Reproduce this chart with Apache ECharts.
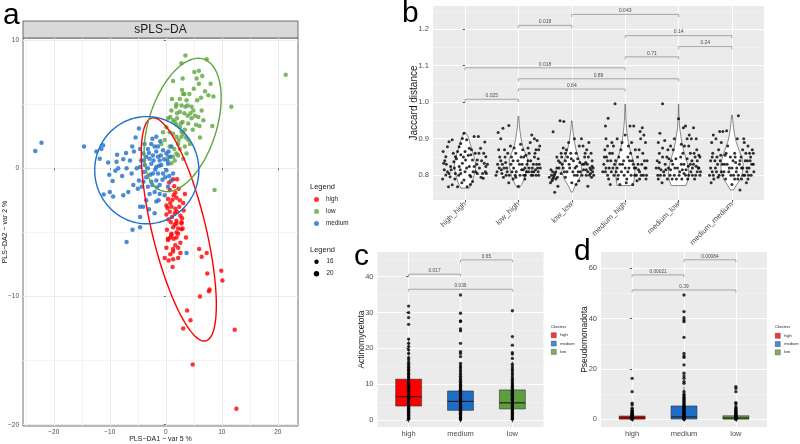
<!DOCTYPE html>
<html><head><meta charset="utf-8">
<script src="https://cdn.jsdelivr.net/npm/echarts@6/dist/echarts.min.js"></script>
<style>html,body{margin:0;padding:0;background:#fff}#main{width:800px;height:444px}</style>
</head><body><div id="main"></div>
<script>
// ---------- Panel a: sPLS-DA scores ----------
const aGroups = ['high', 'low', 'medium'];
const highPts = [[1.3,-0.86],[2.0,-0.86],[0.7,-1.7],[1.4,-2.1],[0.4,-2.4],[1.2,-2.45],[1.9,-2.3],[2.5,-2.5],[3.1,-2.7],[0.1,-2.9],[1.0,-3.0],[1.7,-3.15],[2.4,-3.0],[0.7,-3.4],[0.1,-3.6],[1.6,-3.5],[2.6,-3.7],[1.9,-4.1],[2.8,-4.3],[1.3,-4.6],[3.0,-4.7],[2.2,-5.1],[1.0,-5.2],[1.9,-5.4],[0.4,-5.6],[0.9,-4.2],[1.9,-4.3],[2.8,-4.2],[2.2,-4.7],[2.8,-4.75],[1.0,-5.1],[1.9,-5.0],[0.4,-5.5],[0.8,-5.4],[1.4,-5.5],[1.3,-6.3],[2.2,-6.2],[-0.2,-7.0],[0.8,-6.7],[1.3,-6.5],[0.5,-7.2],[1.3,-7.1],[2.2,-7.0],[1.2,-7.7],[5.95,-6.3],[6.4,-6.9],[7.3,-6.6],[7.4,-8.2],[9.9,-8.0],[10.1,-8.75],[7.7,-9.6],[7.8,-9.45],[6.1,-10.0],[3.8,-11.1],[4.4,-11.85],[3.1,-12.5],[12.3,-12.6],[4.8,-15.3],[12.6,-18.75],[0.6,-1.1],[2.3,-1.6],[1.5,-1.4],[3.2,-3.3],[0.5,-4.0],[2.6,-5.8],[1.7,-6.0],[0.1,-6.2],[3.4,-2.0],[1.1,-3.8],[2.0,-3.4],[0.3,-3.1],[2.9,-3.9],[1.6,-4.4],[0.8,-2.7],[2.6,-6.6],[3.6,-5.4],[1.7,-1.9],[0.2,-4.8]];
const lowPts = [[3.5,8.8],[2.8,8.2],[7.3,8.5],[21.4,7.3],[5.1,7.5],[5.9,7.6],[5.5,7.0],[5.9,6.6],[1.3,6.8],[8.0,6.6],[7.0,6.0],[7.6,5.7],[8.5,5.6],[2.9,6.1],[3.3,5.8],[2.5,5.4],[3.1,5.8],[1.1,5.4],[1.9,5.0],[2.8,4.9],[3.5,4.8],[3.9,4.9],[4.6,4.8],[4.9,4.5],[11.7,4.8],[2.5,4.4],[3.3,4.3],[3.9,4.1],[5.2,4.1],[5.8,4.0],[6.7,3.75],[6.0,3.3],[8.3,3.3],[6.1,2.4],[5.4,3.4],[0.4,3.9],[0.8,4.0],[1.3,3.75],[1.6,3.6],[1.9,3.4],[2.5,3.2],[3.4,3.0],[3.1,2.7],[2.8,2.45],[4.0,2.2],[1.3,2.7],[1.9,2.45],[0.1,3.2],[0.7,2.8],[4.3,1.9],[3.4,1.7],[2.5,1.5],[3.7,1.15],[1.9,1.15],[1.3,0.9],[1.6,0.6],[0.4,0.9],[-0.5,2.8],[-0.2,2.2],[8.7,-1.7],[-0.8,1.9],[0.7,1.7],[2.2,1.9],[3.0,3.6],[4.0,3.5],[4.6,3.9],[5.6,5.3],[6.4,4.5],[1.0,4.5],[1.8,4.8],[3.7,5.3],[4.4,4.3],[2.2,1.0],[3.1,0.75],[1.0,0.4],[2.8,2.85],[2.0,3.9],[2.7,3.5],[3.6,2.4],[2.3,2.2],[1.5,1.5],[4.8,3.0],[5.0,6.2],[6.5,7.2],[4.2,5.8],[3.0,7.0],[2.0,4.3],[6.3,5.5]];
const mediumPts = [[-23.3,1.35],[-22.2,2.0],[-14.6,1.7],[-11.2,1.8],[-11.5,1.5],[-11.8,0.75],[-10.3,0.45],[-10.1,-0.5],[-9.5,-1.0],[-8.7,1.05],[-8.8,0.5],[-7.6,0.7],[-6.4,0.6],[-7.1,1.2],[-5.7,1.3],[-8.5,0],[-11.1,-2.05],[-10.0,-1.85],[-9.4,-2.2],[-7.6,-2.1],[-6.7,-1.85],[-5.8,-1.3],[-4.8,-0.95],[-5.4,2.4],[-4.8,3.1],[-4.6,1.5],[-4.0,1.15],[-3.5,0.9],[-3.9,0.6],[-3.2,1.5],[-2.6,1.9],[-2.0,1.7],[-1.7,1.3],[-2.3,1.0],[-1.4,0.9],[-1.1,0.6],[-0.5,1.4],[-0.8,0.25],[-1.7,0.1],[-2.6,0.35],[-3.2,0],[-2.3,-0.4],[-1.4,-0.4],[-0.5,-0.4],[0.1,-0.15],[0.4,0.35],[0.8,0.9],[0.1,1.15],[1.0,1.7],[-1.7,2.45],[-1.4,1.7],[-3.5,-0.7],[-4.0,-1.05],[-4.3,-1.45],[-3.2,-1.45],[-2.6,-1.05],[-1.7,-0.95],[-1.1,-1.3],[-2.0,-1.85],[-1.1,-2.0],[-0.2,-2.1],[-2.9,-2.0],[-3.5,-2.5],[-4.6,-3.0],[0.4,-1.45],[1.0,-0.95],[1.3,-0.4],[-5.2,0],[-6.1,-0.4],[-4.6,0.1],[-3.75,0.25],[-2.9,0.75],[-7.0,0],[-12.4,1.3],[-7.0,-5.75],[-5.95,-4.8],[-4.6,-4.6],[3.7,-6.6],[-4.6,-3.8],[-4.05,-3.0],[-1.7,-2.6],[-1.3,-2.5],[-3.0,1.2],[-2.2,0.6],[-1.9,-0.1],[-0.9,1.0],[-0.3,0.7],[0.3,0.6],[-0.6,-0.9],[-2.8,-0.5],[-3.8,1.9],[-2.4,2.3],[-1.0,2.1],[0.5,1.3],[-0.1,-0.7],[-1.6,-1.5],[-2.4,-1.3],[-3.9,-0.3],[-4.4,0.6],[-5.0,-1.6],[-6.0,1.7],[-7.8,-0.6],[-9.0,-0.2],[-3.0,-3.2],[-2.0,-3.5],[-1.2,0.2],[0.6,-0.6]];
// confidence ellipses: [cx, cy, ax, cy_cos, cy_sin]
const ellipseHigh = [2.32, -4.77, 6.7, -5.9, 6.4];
const ellipseLow = [3.0, 3.38, 6.88, 2.11, 4.75];
const ellipseMedium = [-3.4, -0.15, 9.3, 0, 4.18];
const aXTicks = [-20, -10, 0, 10, 20];
const aXMinor = [-25, -15, -5, 5, 15];
const aYTicks = [-20, -10, 0, 10];
const aYMinor = [-15, -5, 5];

// ---------- Panel b: Jaccard distance ----------
const bCats = ['high_high', 'low_high', 'low_low', 'medium_high', 'medium_low', 'medium_medium'];
const bYTicks = [0.8, 0.9, 1.0, 1.1, 1.2];
const bYMinor = [0.75, 0.85, 0.95, 1.05, 1.15, 1.25];
const jitHighHigh = [[-0.41,0.865],[-0.33,0.878],[-0.30,0.892],[-0.24,0.897],[-0.40,0.833],[-0.39,0.815],[-0.36,0.801],[-0.31,0.769],[-0.24,0.774],[-0.27,0.824],[-0.21,0.837],[-0.18,0.851],[-0.14,0.865],[-0.11,0.878],[-0.08,0.887],[-0.05,0.901],[-0.02,0.915],[0.03,0.897],[0.08,0.874],[0.11,0.856],[0.14,0.842],[0.17,0.824],[0.20,0.810],[0.23,0.842],[0.26,0.860],[0.29,0.874],[0.25,0.906],[0.36,0.833],[0.39,0.824],[0.40,0.805],[0.37,0.891],[0.34,0.792],[-0.11,0.824],[-0.08,0.805],[-0.02,0.787],[0.04,0.769],[0.11,0.796],[0.01,0.842],[-0.08,0.856],[-0.18,0.805],[-0.28,0.796],[-0.36,0.851],[0.17,0.906],[0.23,0.805],[0.39,0.851],[0.33,0.805],[0.08,0.824],[-0.05,0.833],[-0.14,0.769],[0.14,0.783],[-0.42,0.79],[-0.35,0.83],[-0.3,0.805],[-0.26,0.815],[-0.22,0.86],[-0.19,0.79],[-0.16,0.845],[-0.12,0.8],[-0.09,0.815],[-0.06,0.78],[-0.03,0.85],[0.0,0.81],[0.03,0.82],[0.06,0.855],[0.09,0.8],[0.12,0.87],[0.15,0.81],[0.19,0.86],[0.22,0.83],[0.27,0.82],[0.31,0.84],[0.35,0.86],[0.38,0.81],[0.42,0.83],[-0.33,0.81],[0.1,0.775],[-0.2,0.82],[0.3,0.795],[0.0,0.865],[-0.38,0.84]];
const jitLowHigh = [[-0.38,0.917],[-0.29,0.929],[-0.18,0.936],[-0.33,0.84],[-0.36,0.82],[-0.4,0.81],[-0.3,0.83],[-0.25,0.85],[-0.22,0.82],[-0.2,0.86],[-0.15,0.88],[-0.1,0.84],[-0.12,0.81],[-0.06,0.8],[0.02,0.83],[0.05,0.85],[0.08,0.87],[0.12,0.82],[0.15,0.81],[0.18,0.84],[0.2,0.86],[0.22,0.89],[0.25,0.81],[0.28,0.83],[0.3,0.85],[0.33,0.87],[0.36,0.82],[0.38,0.8],[0.3,0.9],[0.25,0.91],[0.35,0.895],[0.4,0.88],[0.37,0.845],[-0.37,0.87],[-0.28,0.795],[-0.1,0.79],[0.0,0.77],[0.1,0.8],[-0.05,0.86],[0.27,0.8],[0.32,0.815],[-0.23,0.8],[-0.18,0.78],[0.14,0.855],[-0.32,0.815],[0.06,0.815],[-0.14,0.83],[0.2,0.82],[0.39,0.83],[-0.08,0.875],[-0.42,0.8],[-0.39,0.83],[-0.35,0.85],[-0.31,0.805],[-0.27,0.82],[-0.24,0.835],[-0.21,0.81],[-0.17,0.8],[-0.13,0.85],[-0.09,0.82],[-0.04,0.81],[-0.01,0.84],[0.03,0.8],[0.07,0.83],[0.1,0.85],[0.13,0.8],[0.16,0.83],[0.19,0.81],[0.23,0.84],[0.26,0.82],[0.29,0.81],[0.31,0.86],[0.34,0.83],[0.37,0.81],[0.41,0.82],[0.18,0.875],[0.04,0.885],[-0.26,0.87],[0.38,0.87],[0.24,0.8],[-0.05,0.795],[0.12,0.79],[-0.33,0.9],[0.33,0.8],[0.09,0.815]];
const jitLowLow = [[-0.35,0.919],[-0.22,0.949],[-0.15,0.947],[-0.36,0.81],[-0.38,0.8],[-0.34,0.795],[-0.32,0.805],[-0.3,0.79],[-0.37,0.785],[-0.28,0.82],[-0.25,0.84],[-0.2,0.86],[-0.18,0.83],[-0.14,0.81],[-0.1,0.87],[-0.06,0.89],[-0.02,0.86],[0.03,0.84],[0.06,0.82],[0.1,0.8],[0.13,0.785],[0.16,0.81],[0.2,0.83],[0.24,0.85],[0.28,0.87],[0.32,0.89],[0.36,0.86],[0.38,0.84],[0.34,0.82],[0.3,0.81],[0.27,0.8],[0.22,0.815],[0.39,0.81],[0.35,0.805],[-0.26,0.77],[-0.32,0.754],[0.0,0.78],[0.08,0.775],[-0.12,0.795],[0.18,0.9],[0.14,0.88],[-0.04,0.82],[0.26,0.835],[0.11,0.845],[-0.2,0.805],[-0.08,0.85],[0.38,0.825],[0.31,0.85],[-0.16,0.875],[0.05,0.9],[-0.42,0.795],[-0.39,0.815],[-0.36,0.79],[-0.33,0.8],[-0.3,0.81],[-0.27,0.795],[-0.24,0.82],[-0.22,0.835],[-0.19,0.85],[-0.16,0.82],[-0.12,0.84],[-0.09,0.81],[-0.05,0.83],[-0.01,0.845],[0.02,0.81],[0.05,0.8],[0.09,0.825],[0.12,0.81],[0.15,0.835],[0.19,0.8],[0.23,0.83],[0.27,0.815],[0.29,0.83],[0.33,0.8],[0.36,0.815],[0.4,0.82],[0.41,0.8],[0.37,0.795],[0.25,0.86],[0.21,0.88],[-0.28,0.85],[-0.12,0.86],[0.08,0.86],[-0.4,0.78],[0.3,0.77]];
const jitMediumHigh = [[-0.19,0.996],[-0.32,0.956],[-0.37,0.935],[-0.36,0.9],[-0.38,0.87],[-0.35,0.85],[-0.4,0.83],[-0.37,0.81],[-0.33,0.8],[-0.3,0.82],[-0.27,0.84],[-0.24,0.86],[-0.22,0.88],[-0.2,0.83],[-0.17,0.81],[-0.14,0.79],[-0.12,0.85],[-0.08,0.87],[-0.05,0.83],[-0.02,0.8],[0.02,0.78],[0.05,0.81],[0.08,0.84],[0.1,0.86],[0.12,0.89],[0.09,0.935],[0.15,0.83],[0.18,0.8],[0.2,0.82],[0.23,0.85],[0.26,0.87],[0.29,0.9],[0.32,0.93],[0.35,0.91],[0.38,0.89],[0.33,0.86],[0.36,0.84],[0.39,0.82],[0.3,0.8],[0.27,0.79],[0.4,0.8],[-0.28,0.775],[-0.1,0.775],[0.14,0.775],[0.22,0.785],[-0.25,0.89],[0.0,0.91],[-0.15,0.9],[0.06,0.88],[0.25,0.815],[-0.42,0.81],[-0.39,0.85],[-0.36,0.82],[-0.33,0.84],[-0.31,0.79],[-0.29,0.86],[-0.26,0.81],[-0.23,0.82],[-0.21,0.8],[-0.18,0.84],[-0.15,0.82],[-0.13,0.8],[-0.1,0.83],[-0.07,0.81],[-0.03,0.84],[0.0,0.82],[0.03,0.79],[0.07,0.82],[0.11,0.8],[0.13,0.84],[0.17,0.82],[0.21,0.8],[0.24,0.83],[0.27,0.81],[0.31,0.83],[0.34,0.8],[0.37,0.82],[0.41,0.84],[0.39,0.79],[0.19,0.87],[-0.06,0.89],[-0.33,0.88],[0.28,0.92],[0.16,0.935],[0.05,0.85]];
const jitMediumLow = [[-0.3,0.996],[-0.35,0.915],[-0.38,0.89],[-0.36,0.86],[-0.4,0.84],[-0.37,0.82],[-0.34,0.8],[-0.38,0.79],[-0.31,0.78],[-0.28,0.81],[-0.25,0.83],[-0.22,0.85],[-0.19,0.82],[-0.16,0.8],[-0.13,0.84],[-0.1,0.87],[-0.07,0.82],[-0.04,0.79],[0.0,0.955],[0.02,0.81],[0.05,0.83],[0.08,0.86],[0.11,0.88],[0.09,0.93],[0.13,0.935],[0.16,0.9],[0.19,0.88],[0.22,0.86],[0.25,0.84],[0.28,0.83],[0.31,0.85],[0.34,0.87],[0.37,0.82],[0.4,0.8],[0.35,0.81],[0.3,0.79],[0.26,0.8],[0.23,0.81],[0.18,0.825],[0.14,0.815],[0.2,0.91],[0.28,0.93],[-0.26,0.895],[-0.2,0.87],[-0.08,0.9],[0.38,0.855],[0.33,0.825],[-0.12,0.79],[0.06,0.79],[0.1,0.805],[-0.42,0.82],[-0.39,0.8],[-0.36,0.835],[-0.33,0.815],[-0.3,0.85],[-0.27,0.8],[-0.24,0.815],[-0.21,0.79],[-0.18,0.845],[-0.15,0.815],[-0.11,0.83],[-0.08,0.8],[-0.05,0.845],[-0.02,0.82],[0.01,0.8],[0.04,0.85],[0.07,0.815],[0.1,0.83],[0.13,0.8],[0.16,0.845],[0.19,0.8],[0.22,0.83],[0.26,0.82],[0.29,0.86],[0.32,0.8],[0.35,0.84],[0.38,0.82],[0.41,0.81],[0.4,0.85],[0.24,0.9],[0.05,0.885],[-0.3,0.875],[-0.15,0.88],[0.33,0.9],[0.17,0.79]];
const jitMediumMedium = [[0.12,0.963],[-0.23,0.92],[-0.17,0.92],[-0.1,0.922],[-0.38,0.89],[-0.36,0.86],[-0.4,0.84],[-0.37,0.81],[-0.34,0.79],[-0.39,0.78],[-0.31,0.82],[-0.28,0.85],[-0.25,0.87],[-0.22,0.84],[-0.2,0.81],[-0.17,0.8],[-0.14,0.83],[-0.11,0.86],[-0.08,0.88],[-0.05,0.82],[-0.02,0.8],[0.02,0.84],[0.05,0.86],[0.08,0.81],[0.11,0.79],[0.14,0.83],[0.17,0.85],[0.2,0.87],[0.23,0.89],[0.26,0.86],[0.29,0.84],[0.32,0.82],[0.35,0.85],[0.38,0.87],[0.4,0.83],[0.36,0.8],[0.3,0.79],[0.27,0.78],[0.24,0.8],[0.2,0.82],[0.15,0.76],[0.1,0.9],[-0.3,0.9],[0.33,0.86],[-0.26,0.795],[0.0,0.775],[0.18,0.79],[0.07,0.835],[-0.13,0.855],[0.28,0.81],[-0.42,0.8],[-0.4,0.82],[-0.37,0.85],[-0.35,0.8],[-0.32,0.84],[-0.29,0.81],[-0.27,0.83],[-0.24,0.8],[-0.21,0.855],[-0.18,0.83],[-0.15,0.81],[-0.12,0.79],[-0.09,0.83],[-0.06,0.81],[-0.03,0.85],[0.0,0.82],[0.03,0.8],[0.06,0.85],[0.09,0.82],[0.12,0.8],[0.15,0.84],[0.18,0.82],[0.21,0.8],[0.25,0.84],[0.28,0.82],[0.31,0.8],[0.34,0.84],[0.37,0.83],[0.41,0.81],[0.4,0.86],[0.3,0.88],[-0.35,0.91],[-0.2,0.89],[0.22,0.9],[0.05,0.79]];
// violin outlines: [jaccard, half width]
const violinHighHigh = [[0.765,0.08],[0.78,0.13],[0.80,0.17],[0.82,0.2],[0.84,0.19],[0.86,0.15],[0.88,0.11],[0.90,0.07],[0.91,0.04],[0.917,0.01]];
const violinLowHigh = [[0.766,0.02],[0.775,0.06],[0.79,0.11],[0.81,0.15],[0.83,0.17],[0.845,0.17],[0.86,0.13],[0.88,0.08],[0.90,0.05],[0.92,0.03],[0.94,0.015],[0.962,0.005]];
const violinLowLow = [[0.754,0.01],[0.77,0.06],[0.79,0.14],[0.81,0.19],[0.83,0.17],[0.85,0.12],[0.87,0.08],[0.89,0.05],[0.91,0.03],[0.93,0.015],[0.949,0.005]];
const violinMediumHigh = [[0.772,0.15],[0.79,0.17],[0.81,0.18],[0.83,0.17],[0.85,0.13],[0.87,0.09],[0.89,0.06],[0.91,0.04],[0.93,0.025],[0.95,0.015],[0.97,0.01],[0.995,0.003]];
const violinMediumLow = [[0.772,0.14],[0.79,0.18],[0.81,0.19],[0.83,0.17],[0.85,0.13],[0.87,0.09],[0.89,0.06],[0.91,0.04],[0.93,0.02],[0.95,0.012],[0.97,0.006],[0.995,0.002]];
const violinMediumMedium = [[0.76,0.03],[0.775,0.09],[0.79,0.16],[0.81,0.2],[0.83,0.21],[0.85,0.18],[0.87,0.13],[0.89,0.08],[0.91,0.05],[0.93,0.03],[0.95,0.015],[0.965,0.005]];
const bBrFrom = [0, 1, 1, 0, 3, 4, 3, 1, 2];
const bBrTo = [1, 3, 4, 3, 4, 5, 5, 2, 4];
const bBrY = [1.008, 1.036, 1.064, 1.094, 1.124, 1.152, 1.182, 1.21, 1.24];
const bBrLabel = ['0.025', '0.84', '0.89', '0.018', '0.71', '0.24', '0.14', '0.018', '0.043'];

// ---------- Panels c & d: box plots ----------
const clusters = ['high', 'medium', 'low'];
const cYTicks = [0, 10, 20, 30, 40];
const cYMinor = [5, 15, 25, 35, 45];
const dYTicks = [0, 20, 40, 60];
const dYMinor = [10, 30, 50];
// [min, Q1, median, Q3, max]
const cBoxHigh = [0, 3.9, 6.5, 11.4, 22.6];
const cBoxMedium = [0, 2.7, 5.2, 8.1, 15.8];
const cBoxLow = [0, 3.1, 4.8, 8.4, 16.4];
const dBoxHigh = [0, 0.05, 0.6, 1.3, 3.0];
const dBoxMedium = [0, 0.1, 0.95, 5.3, 13.1];
const dBoxLow = [0, 0.05, 0.5, 1.4, 3.4];
const cPtsHigh = [0.2,0.5,0.7,1.0,1.3,1.5,1.9,2.2,2.4,2.7,3.0,3.3,3.5,3.9,4.1,4.4,4.8,5.0,5.3,5.7,5.9,6.2,6.5,6.8,7.1,7.3,7.6,8.0,8.2,8.5,8.9,9.1,9.4,9.8,10.0,10.3,10.7,11.0,11.3,11.7,12.0,12.3,12.8,13.1,13.4,13.9,14.2,14.7,15.1,15.6,16.1,16.8,17.4,18.6,19.6,20.5,21.4,22.6,26.7,28.6,30.0,31.8];
const cPtsMedium = [0.1,0.3,0.6,0.8,1.1,1.4,1.6,1.9,2.1,2.4,2.7,2.9,3.2,3.5,3.7,4.0,4.3,4.5,4.8,5.1,5.3,5.6,5.9,6.1,6.4,6.7,6.9,7.2,7.5,7.8,8.1,8.3,8.6,9.0,9.3,9.6,10.0,10.4,10.8,11.3,11.7,12.2,12.8,13.4,14.0,14.6,15.1,15.8,17.7,18.6,19.1,21.4,24.9,25.4,27.5,27.7,29.8,34.9];
const cPtsLow = [0.2,0.4,0.7,1.0,1.2,1.5,1.8,2.0,2.3,2.6,2.9,3.1,3.4,3.7,3.9,4.2,4.5,4.7,5.0,5.3,5.6,5.8,6.1,6.4,6.6,6.9,7.2,7.5,7.8,8.0,8.3,8.7,9.0,9.4,9.8,10.2,10.6,11.1,11.5,12.0,12.6,13.1,13.7,14.2,14.9,15.6,17.2,18.4,18.8,20.9,23.3,30.5];
const dPtsHigh = [0.0,0.1,0.2,0.3,0.4,0.5,0.7,0.8,0.9,1.1,1.2,1.4,1.6,1.8,2.0,2.2,2.5,2.8,3.1,3.4,3.8,4.4,5.7,6.4,11.0,16.3];
const dPtsMedium = [0.0,0.1,0.3,0.4,0.6,0.8,0.9,1.1,1.3,1.6,1.8,2.1,2.4,2.7,3.0,3.3,3.6,3.9,4.2,4.6,4.9,5.3,5.7,6.1,6.5,6.9,7.3,7.8,8.3,8.8,9.4,10.0,11.0,14.3,15.0,16.3,17.2,18.3,21.6,24.6,25.2,26.2,32.6,38.8,39.5,40.4,42.8,49.4];
const dPtsLow = [0.0,0.1,0.2,0.3,0.4,0.6,0.7,0.8,1.0,1.1,1.3,1.5,1.7,1.9,2.2,2.5,2.8,3.1,3.5,3.9,4.4,5.0,6.1,6.6,11.0,12.3,13.0];
const cBrFrom = [0, 0, 1], cBrTo = [1, 2, 2];
const cBrY = [40.7, 36.5, 44.7];
const cBrLabel = ['0.017', '0.039', '0.65'];
const dBrFrom = [0, 0, 1], dBrTo = [1, 2, 2];
const dBrY = [57.4, 51.4, 63.4];
const dBrLabel = ['0.00021', '0.39', '0.00084'];

// ---------- styles ----------
const FONT = 'Liberation Sans';
const RED = '#FF0000', GREEN_A = '#5EA63F', BLUE_A = '#1F6FCB';
const GREEN_B = '#5E9E40', BLUE_B = '#1F6DC6';
const minus = v => (v < 0 ? '\u2212' + Math.abs(v) : String(v));

const chart = echarts.init(document.getElementById('main'));

function valAxis(gridIndex, min, max, ticks, opts) {
  return Object.assign({
    type: 'value', gridIndex, min, max, nameMoveOverlap: false,
    axisLine: { show: false },
    axisTick: { show: true, customValues: ticks, length: 2.5, lineStyle: { color: '#333', width: 0.8 } },
    axisLabel: { customValues: ticks, fontFamily: FONT, color: '#4D4D4D', fontSize: 7.5, margin: 4 },
    splitLine: { show: true, lineStyle: { color: '#fff', width: 1 } }
  }, opts || {});
}
function minorAxis(gridIndex, min, max, ticks, color, width, position) {
  return {
    type: 'value', gridIndex, min, max, position,
    axisLine: { show: false },
    axisTick: { show: false, customValues: ticks },
    axisLabel: { show: false, customValues: ticks },
    splitLine: { show: true, lineStyle: { color, width } }
  };
}

function ellipseRender(par, color) {
  return function (params, api) {
    const pts = [];
    for (let k = 0; k <= 120; k++) {
      const t = k / 120 * 2 * Math.PI;
      pts.push(api.coord([par[0] + par[2] * Math.cos(t), par[1] + par[3] * Math.cos(t) + par[4] * Math.sin(t)]));
    }
    return { type: 'polyline', shape: { points: pts }, style: { stroke: color, lineWidth: 1.4, fill: null } };
  };
}
function bracketRender(labels, fs, tk) {
  return function (params, api) {
    const p1 = api.coord([api.value(0), api.value(2)]);
    const p2 = api.coord([api.value(1), api.value(2)]);
    return { type: 'group', children: [
      { type: 'polyline', shape: { points: [[p1[0], p1[1] + tk], p1, p2, [p2[0], p2[1] + tk]] },
        style: { stroke: '#8A8A8A', lineWidth: 0.7, fill: null } },
      { type: 'text', x: (p1[0] + p2[0]) / 2, y: p1[1] - 1,
        style: { text: labels[params.dataIndex], fontSize: fs, fontFamily: FONT, fill: '#4D4D4D', align: 'center', verticalAlign: 'bottom' } }
    ] };
  };
}
function boxRender(params, api) {
  const x = api.value(0), hw = 0.25;
  const mn = api.value(1), q1 = api.value(2), md = api.value(3), q3 = api.value(4), mx = api.value(5);
  const tl = api.coord([x - hw, q3]), br = api.coord([x + hw, q1]);
  const top = api.coord([x, mx]), bot = api.coord([x, mn]);
  const qt = api.coord([x, q3]), qb = api.coord([x, q1]);
  const m1 = api.coord([x - hw, md]), m2 = api.coord([x + hw, md]);
  const color = api.visual('color');
  return { type: 'group', children: [
    { type: 'line', shape: { x1: top[0], y1: top[1], x2: qt[0], y2: qt[1] }, style: { stroke: '#333', lineWidth: 0.6 } },
    { type: 'line', shape: { x1: bot[0], y1: bot[1], x2: qb[0], y2: qb[1] }, style: { stroke: '#333', lineWidth: 0.6 } },
    { type: 'rect', shape: { x: tl[0], y: tl[1], width: br[0] - tl[0], height: br[1] - tl[1] }, style: { fill: color, stroke: '#333', lineWidth: 0.6 } },
    { type: 'line', shape: { x1: m1[0], y1: m1[1], x2: m2[0], y2: m2[1] }, style: { stroke: '#1A1A1A', lineWidth: 1.1 } }
  ] };
}

const violins = [violinHighHigh, violinLowHigh, violinLowLow, violinMediumHigh, violinMediumLow, violinMediumMedium];
const jitters = [jitHighHigh, jitLowHigh, jitLowLow, jitMediumHigh, jitMediumLow, jitMediumMedium];
const bPoints = [];
jitters.forEach((arr, i) => arr.forEach(p => bPoints.push([i + p[0], p[1]])));
const cBoxes = [cBoxHigh, cBoxMedium, cBoxLow];
const dBoxes = [dBoxHigh, dBoxMedium, dBoxLow];
const cPts = [], dPts = [];
[cPtsHigh, cPtsMedium, cPtsLow].forEach((a, i) => a.forEach(v => cPts.push([i, v])));
[dPtsHigh, dPtsMedium, dPtsLow].forEach((a, i) => a.forEach(v => dPts.push([i, v])));
const boxColors = [RED, BLUE_B, GREEN_B];
const catLabel = (fs, margin) => ({ customValues: [0, 1, 2], fontFamily: FONT, color: '#4D4D4D', fontSize: fs, margin, formatter: v => clusters[Math.round(v)] });
const legendItems = [
  { name: 'high', icon: 'rect', itemStyle: { color: RED, borderColor: '#333', borderWidth: 0.5 } },
  { name: 'medium', icon: 'rect', itemStyle: { color: BLUE_B, borderColor: '#333', borderWidth: 0.5 } },
  { name: 'low', icon: 'rect', itemStyle: { color: GREEN_B, borderColor: '#333', borderWidth: 0.5 } }];

const option = {
  animation: false,
  backgroundColor: '#fff',
  textStyle: { fontFamily: FONT },
  grid: [
    { left: 23, top: 38, width: 275, height: 388, outerBoundsMode: 'none', containLabel: false, show: true, borderColor: '#4D4D4D', borderWidth: 0.8, backgroundColor: '#fff' },
    { left: 433, top: 6, width: 331, height: 194, outerBoundsMode: 'none', containLabel: false, show: true, borderWidth: 0, backgroundColor: '#EBEBEB' },
    { left: 377.5, top: 252, width: 166, height: 175, outerBoundsMode: 'none', containLabel: false, show: true, borderWidth: 0, backgroundColor: '#EBEBEB' },
    { left: 601, top: 252, width: 166, height: 175, outerBoundsMode: 'none', containLabel: false, show: true, borderWidth: 0, backgroundColor: '#EBEBEB' }
  ],
  xAxis: [
    valAxis(0, -25.5, 23.6, aXTicks, {
      axisTick: { show: true, customValues: aXTicks, length: 2, lineStyle: { color: '#333', width: 0.7 } },
      axisLabel: { customValues: aXTicks, fontFamily: FONT, color: '#4D4D4D', fontSize: 6.5, margin: 3, formatter: minus },
      splitLine: { show: true, lineStyle: { color: '#EBEBEB', width: 1 } },
      name: 'PLS\u2212DA1 \u2212 var 5 %', nameLocation: 'middle', nameGap: 9.5,
      nameTextStyle: { fontFamily: FONT, fontSize: 7, color: '#1A1A1A' }
    }),
    minorAxis(0, -25.5, 23.6, aXMinor, '#F0F0F0', 0.8, 'top'),
    valAxis(1, -0.6, 5.6, [0, 1, 2, 3, 4, 5], {
      axisLabel: { customValues: [0, 1, 2, 3, 4, 5], fontFamily: FONT, color: '#4D4D4D', fontSize: 7.5, margin: 3, rotate: 45,
        formatter: v => bCats[Math.round(v)] }
    }),
    valAxis(2, -0.6, 2.6, [0, 1, 2], { axisLabel: catLabel(7.5, 2.5) }),
    valAxis(3, -0.6, 2.6, [0, 1, 2], { axisLabel: catLabel(7.5, 2.5) })
  ],
  yAxis: [
    valAxis(0, -20.1, 10.16, aYTicks, {
      axisTick: { show: true, customValues: aYTicks, length: 2, lineStyle: { color: '#333', width: 0.7 } },
      axisLabel: { customValues: aYTicks, fontFamily: FONT, color: '#4D4D4D', fontSize: 6.5, margin: 4, formatter: minus },
      splitLine: { show: true, lineStyle: { color: '#EBEBEB', width: 1 } },
      name: 'PLS\u2212DA2 \u2212 var 2 %', nameLocation: 'middle', nameGap: 14,
      nameTextStyle: { fontFamily: FONT, fontSize: 7, color: '#1A1A1A' }
    }),
    minorAxis(0, -20.1, 10.16, aYMinor, '#F0F0F0', 0.8, 'right'),
    valAxis(1, 0.7325, 1.263, bYTicks, {
      axisLabel: { customValues: bYTicks, fontFamily: FONT, color: '#4D4D4D', fontSize: 7.5, margin: 4, formatter: v => v.toFixed(1) },
      name: 'Jaccard distance', nameLocation: 'middle', nameGap: 14,
      nameTextStyle: { fontFamily: FONT, fontSize: 10, color: '#1A1A1A' }
    }),
    minorAxis(1, 0.7325, 1.263, bYMinor, '#F5F5F5', 0.6, 'right'),
    valAxis(2, -1.95, 46.9, cYTicks, {
      name: 'Actinomycetota', nameLocation: 'middle', nameGap: 11.5,
      nameTextStyle: { fontFamily: FONT, fontSize: 8.5, color: '#1A1A1A' }
    }),
    minorAxis(2, -1.95, 46.9, cYMinor, '#F5F5F5', 0.6, 'right'),
    valAxis(3, -3.06, 66.5, dYTicks, {
      name: 'Pseudomonadota', nameLocation: 'middle', nameGap: 11.5,
      nameTextStyle: { fontFamily: FONT, fontSize: 8.5, color: '#1A1A1A' }
    }),
    minorAxis(3, -3.06, 66.5, dYMinor, '#F5F5F5', 0.6, 'right')
  ],
  legend: [
    { orient: 'vertical', left: 314, top: 195.5, padding: 0, itemWidth: 5, itemHeight: 5, itemGap: 4,
      textStyle: { fontFamily: FONT, fontSize: 6.3, lineHeight: 8, color: '#1A1A1A', padding: [0, 0, 0, 2] },
      data: [{ name: 'high', icon: 'circle', itemStyle: { color: RED } },
             { name: 'low', icon: 'circle', itemStyle: { color: GREEN_A } },
             { name: 'medium', icon: 'circle', itemStyle: { color: BLUE_A } }] },
    { orient: 'vertical', left: 551, top: 332.5, padding: 0, itemWidth: 5, itemHeight: 5, itemGap: 2.8,
      textStyle: { fontFamily: FONT, fontSize: 4, lineHeight: 5, color: '#1A1A1A', padding: [0, 0, 0, -1] },
      data: legendItems },
    { orient: 'vertical', left: 775, top: 333, padding: 0, itemWidth: 5, itemHeight: 5, itemGap: 2.8,
      textStyle: { fontFamily: FONT, fontSize: 4, lineHeight: 5, color: '#1A1A1A', padding: [0, 0, 0, -1] },
      data: legendItems }
  ],
  graphic: [
    { type: 'text', x: 3, y: 1, style: { text: 'a', fontSize: 30, fontFamily: FONT, fill: '#000' } },
    { type: 'text', x: 402, y: -1, style: { text: 'b', fontSize: 30, fontFamily: FONT, fill: '#000' } },
    { type: 'text', x: 354, y: 242, style: { text: 'c', fontSize: 30, fontFamily: FONT, fill: '#000' } },
    { type: 'text', x: 574, y: 237, style: { text: 'd', fontSize: 30, fontFamily: FONT, fill: '#000' } },
    { type: 'rect', shape: { x: 23, y: 21, width: 275, height: 17 }, style: { fill: '#D9D9D9', stroke: '#4D4D4D', lineWidth: 0.8 } },
    { type: 'text', x: 160.5, y: 29.5, style: { text: 'sPLS\u2212DA', fontSize: 12, fontFamily: FONT, fill: '#1A1A1A', align: 'center', verticalAlign: 'middle' } },
    { type: 'text', x: 310, y: 187, style: { text: 'Legend', fontSize: 7.5, fontFamily: FONT, fill: '#1A1A1A', verticalAlign: 'middle' } },
    { type: 'text', x: 310, y: 249.5, style: { text: 'Legend', fontSize: 7.5, fontFamily: FONT, fill: '#1A1A1A', verticalAlign: 'middle' } },
    { type: 'circle', shape: { cx: 316.5, cy: 261.7, r: 2.2 }, style: { fill: '#000' } },
    { type: 'circle', shape: { cx: 316.5, cy: 273.7, r: 2.7 }, style: { fill: '#000' } },
    { type: 'text', x: 326.5, y: 261.7, style: { text: '16', fontSize: 6.3, fontFamily: FONT, fill: '#1A1A1A', verticalAlign: 'middle' } },
    { type: 'text', x: 326.5, y: 273.7, style: { text: '20', fontSize: 6.3, fontFamily: FONT, fill: '#1A1A1A', verticalAlign: 'middle' } },
    { type: 'text', x: 551, y: 327, style: { text: 'Clusters', fontSize: 4.2, fontFamily: FONT, fill: '#1A1A1A', verticalAlign: 'middle' } },
    { type: 'text', x: 775, y: 327.3, style: { text: 'Clusters', fontSize: 4.2, fontFamily: FONT, fill: '#1A1A1A', verticalAlign: 'middle' } }
  ],
  series: [
    // panel a
    { type: 'scatter', name: 'high', xAxisIndex: 0, yAxisIndex: 0, data: highPts, symbolSize: 4.5, itemStyle: { color: RED } },
    { type: 'scatter', name: 'low', xAxisIndex: 0, yAxisIndex: 0, data: lowPts, symbolSize: 4.5, itemStyle: { color: GREEN_A } },
    { type: 'scatter', name: 'medium', xAxisIndex: 0, yAxisIndex: 0, data: mediumPts, symbolSize: 4.5, itemStyle: { color: BLUE_A } },
    { type: 'custom', name: 'high', xAxisIndex: 0, yAxisIndex: 0, data: [[ellipseHigh[0], ellipseHigh[1]]], renderItem: ellipseRender(ellipseHigh, RED), itemStyle: { color: RED }, z: 3 },
    { type: 'custom', name: 'low', xAxisIndex: 0, yAxisIndex: 0, data: [[ellipseLow[0], ellipseLow[1]]], renderItem: ellipseRender(ellipseLow, GREEN_A), itemStyle: { color: GREEN_A }, z: 3 },
    { type: 'custom', name: 'medium', xAxisIndex: 0, yAxisIndex: 0, data: [[ellipseMedium[0], ellipseMedium[1]]], renderItem: ellipseRender(ellipseMedium, BLUE_A), itemStyle: { color: BLUE_A }, z: 3 },
    // panel b
    { type: 'custom', name: 'violin', xAxisIndex: 2, yAxisIndex: 2, data: bCats.map((c, i) => [i, 0.8]),
      renderItem: function (params, api) {
        const prof = violins[params.dataIndex], i = params.dataIndex;
        const right = prof.map(p => api.coord([i + p[1], p[0]]));
        const left = prof.map(p => api.coord([i - p[1], p[0]])).reverse();
        return { type: 'polygon', shape: { points: right.concat(left) }, style: { fill: '#fff', stroke: '#595959', lineWidth: 0.7 } };
      } },
    { type: 'scatter', name: 'jaccard', xAxisIndex: 2, yAxisIndex: 2, data: bPoints, symbolSize: 3, itemStyle: { color: '#000' }, z: 4 },
    { type: 'custom', name: 'bBrackets', xAxisIndex: 2, yAxisIndex: 2, encode: { x: [0, 1], y: 2 },
      data: bBrFrom.map((f, k) => [f, bBrTo[k], bBrY[k]]), renderItem: bracketRender(bBrLabel, 5, 2.7) },
    // panel c
    ...cBoxes.map((b, i) => ({ type: 'custom', name: clusters[i], xAxisIndex: 3, yAxisIndex: 4, encode: { x: 0, y: [1, 2, 3, 4, 5] },
      data: [[i].concat(b)], itemStyle: { color: boxColors[i] }, renderItem: boxRender })),
    { type: 'scatter', name: 'cPoints', xAxisIndex: 3, yAxisIndex: 4, data: cPts, symbolSize: 3.3, itemStyle: { color: '#000' }, z: 4 },
    { type: 'custom', name: 'cBrackets', xAxisIndex: 3, yAxisIndex: 4, encode: { x: [0, 1], y: 2 },
      data: cBrFrom.map((f, k) => [f, cBrTo[k], cBrY[k]]), renderItem: bracketRender(cBrLabel, 4.8, 2.5) },
    // panel d
    ...dBoxes.map((b, i) => ({ type: 'custom', name: clusters[i], xAxisIndex: 4, yAxisIndex: 6, encode: { x: 0, y: [1, 2, 3, 4, 5] },
      data: [[i].concat(b)], itemStyle: { color: boxColors[i] }, renderItem: boxRender })),
    { type: 'scatter', name: 'dPoints', xAxisIndex: 4, yAxisIndex: 6, data: dPts, symbolSize: 3.3, itemStyle: { color: '#000' }, z: 4 },
    { type: 'custom', name: 'dBrackets', xAxisIndex: 4, yAxisIndex: 6, encode: { x: [0, 1], y: 2 },
      data: dBrFrom.map((f, k) => [f, dBrTo[k], dBrY[k]]), renderItem: bracketRender(dBrLabel, 4.8, 2.5) }
  ]
};
chart.setOption(option);
</script></body></html>
